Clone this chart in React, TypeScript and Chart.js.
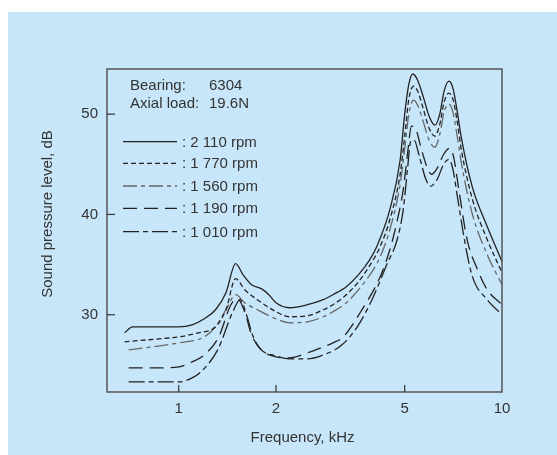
import { useEffect, useRef } from "react";
import { Chart, registerables } from "chart.js";

Chart.register(...registerables);

const FONT = '"Liberation Sans", Arial, Helvetica, sans-serif';
const TEXT = "#333";

// axis ticks
const xTickValues = [1, 2, 5, 10];
const yTickValues = [30, 40, 50];

// legend labels
const seriesLabels = [": 2 110 rpm", ": 1 770 rpm", ": 1 560 rpm", ": 1 190 rpm", ": 1 010 rpm"];

// 2 110 rpm
const freq2110 = [0.68, 0.72, 0.85, 1.0, 1.1, 1.2, 1.3, 1.4, 1.5, 1.58, 1.68, 1.8, 1.9, 2.0, 2.2, 2.5, 2.8, 3.0, 3.3, 3.6, 3.9, 4.1, 4.5, 4.84, 5.0, 5.15, 5.3, 5.48, 5.7, 5.95, 6.2, 6.42, 6.62, 6.85, 7.05, 7.25, 7.5, 8.1, 9.0, 10];
const spl2110 = [28.2, 28.8, 28.8, 28.8, 29.0, 29.6, 30.5, 32.2, 35.1, 34.0, 33.0, 32.6, 32.0, 31.2, 30.7, 31.0, 31.5, 32.0, 32.8, 34.0, 35.5, 36.8, 40.5, 45.4, 50.0, 53.0, 54.0, 53.4, 51.8, 49.8, 48.9, 50.0, 52.3, 53.3, 52.6, 50.5, 47.5, 42.7, 38.8, 35.3];

// 1 770 rpm
const freq1770 = [0.68, 0.8, 1.0, 1.15, 1.3, 1.4, 1.5, 1.6, 1.75, 2.0, 2.2, 2.5, 2.8, 3.0, 3.3, 3.6, 4.0, 4.2, 4.5, 4.84, 5.0, 5.15, 5.33, 5.5, 5.7, 5.95, 6.2, 6.42, 6.62, 6.85, 7.05, 7.25, 7.5, 8.1, 9.0, 10];
const spl1770 = [27.3, 27.5, 27.8, 28.2, 28.8, 30.5, 33.6, 32.5, 31.5, 30.3, 29.8, 29.9, 30.5, 31.0, 32.0, 33.3, 35.5, 36.8, 39.5, 44.0, 47.8, 51.5, 52.8, 52.2, 50.6, 48.6, 47.8, 49.0, 51.2, 52.1, 51.5, 49.5, 46.3, 41.5, 37.5, 34.2];

// 1 560 rpm
const freq1560 = [0.7, 1.0, 1.2, 1.3, 1.4, 1.5, 1.6, 1.75, 2.0, 2.2, 2.5, 2.8, 3.0, 3.3, 3.6, 4.0, 4.2, 4.5, 4.84, 5.0, 5.15, 5.33, 5.5, 5.7, 5.95, 6.2, 6.42, 6.62, 6.85, 7.05, 7.25, 7.5, 8.1, 9.0, 10];
const spl1560 = [26.5, 27.2, 27.8, 28.8, 30.5, 32.0, 31.2, 30.5, 29.6, 29.2, 29.3, 29.8, 30.3, 31.2, 32.5, 34.5, 35.8, 38.5, 43.0, 46.5, 50.0, 51.4, 50.8, 49.3, 47.4, 46.7, 48.0, 50.2, 51.0, 50.2, 48.0, 45.0, 40.0, 36.0, 33.0];

// 1 190 rpm
const freq1190 = [0.7, 0.85, 1.0, 1.1, 1.2, 1.33, 1.45, 1.52, 1.6, 1.68, 1.8, 2.0, 2.2, 2.5, 2.8, 3.0, 3.23, 3.64, 4.2, 4.5, 4.75, 4.95, 5.1, 5.25, 5.4, 5.6, 5.85, 6.05, 6.3, 6.6, 6.9, 7.1, 7.35, 7.8, 8.4, 9.0, 10];
const spl1190 = [24.7, 24.7, 24.8, 25.3, 26.0, 27.8, 31.0, 31.6, 30.3, 28.0, 26.5, 25.8, 25.7, 26.2, 26.8, 27.2, 27.8, 30.2, 33.8, 36.5, 39.5, 42.5, 46.0, 48.8, 48.6, 46.8, 44.8, 44.0, 44.6, 46.0, 46.6, 45.6, 42.5, 37.5, 34.5, 32.5, 31.0];

// 1 010 rpm
const freq1010 = [0.7, 1.0, 1.1, 1.17, 1.32, 1.47, 1.55, 1.62, 1.7, 1.8, 2.0, 2.2, 2.5, 2.8, 3.2, 3.6, 4.0, 4.4, 4.74, 4.95, 5.1, 5.22, 5.35, 5.55, 5.8, 6.0, 6.3, 6.6, 6.85, 7.05, 7.3, 7.7, 8.1, 9.0, 10];
const spl1010 = [23.3, 23.3, 23.7, 24.3, 26.5, 30.3, 31.5, 30.0, 27.8, 26.5, 25.9, 25.6, 25.6, 26.0, 27.0, 29.0, 31.8, 35.0, 37.5, 40.5, 44.5, 47.3, 47.4, 45.8, 43.6, 42.8, 43.5, 45.0, 45.5, 44.5, 41.5, 37.0, 33.8, 31.5, 30.0];

const toPoints = (xs: number[], ys: number[]) => xs.map((x, i) => ({ x, y: ys[i] }));

const overlayPlugin = {
  id: "overlay",
  afterDraw(chart: any) {
    const { ctx, chartArea: a, scales } = chart;
    ctx.save();
    // frame
    ctx.strokeStyle = "#555";
    ctx.lineWidth = 1.5;
    ctx.setLineDash([]);
    ctx.strokeRect(a.left, a.top, a.right - a.left, a.bottom - a.top);
    // inward ticks
    ctx.lineWidth = 1.2;
    ctx.strokeStyle = "#333";
    xTickValues.forEach((t) => {
      const px = scales.x.getPixelForValue(t);
      if (px < a.right - 2) {
        ctx.beginPath();
        ctx.moveTo(px, a.bottom);
        ctx.lineTo(px, a.bottom - 7);
        ctx.stroke();
      }
    });
    yTickValues.forEach((t) => {
      const py = scales.y.getPixelForValue(t);
      ctx.beginPath();
      ctx.moveTo(a.left, py);
      ctx.lineTo(a.left + 8, py);
      ctx.stroke();
    });
    // axis titles
    ctx.fillStyle = TEXT;
    ctx.font = `15px ${FONT}`;
    ctx.textAlign = "center";
    ctx.textBaseline = "middle";
    ctx.fillText("Frequency, kHz", (a.left + a.right) / 2 - 2, a.bottom + 46);
    ctx.save();
    ctx.translate(40, 202);
    ctx.rotate(-Math.PI / 2);
    ctx.fillText("Sound pressure level, dB", 0, 0);
    ctx.restore();
    // header text
    ctx.textAlign = "left";
    ctx.textBaseline = "alphabetic";
    ctx.fillText("Bearing:", a.left + 23, a.top + 21);
    ctx.fillText("6304", a.left + 102, a.top + 21);
    ctx.fillText("Axial load:", a.left + 23, a.top + 39);
    ctx.fillText("19.6N", a.left + 102, a.top + 39);
    // legend
    const rows = [72.7, 94.3, 117, 139.3, 162.7];
    ctx.textBaseline = "middle";
    chart.data.datasets.forEach((ds: any, i: number) => {
      const y = a.top + rows[i];
      ctx.strokeStyle = ds.borderColor;
      ctx.lineWidth = 1.3;
      ctx.setLineDash(ds.borderDash || []);
      ctx.beginPath();
      ctx.moveTo(a.left + 16, y);
      ctx.lineTo(a.left + 70, y);
      ctx.stroke();
      ctx.setLineDash([]);
      ctx.fillStyle = TEXT;
      ctx.fillText(seriesLabels[i], a.left + 75, y + 1);
    });
    ctx.restore();
  },
};

export default function App() {
  const ref = useRef<HTMLCanvasElement | null>(null);

  useEffect(() => {
    if (!ref.current) return;
    const common = {
      fill: false,
      pointRadius: 0,
      borderWidth: 1.3,
      cubicInterpolationMode: "monotone" as const,
    };
    const chart = new Chart(ref.current, {
      type: "line",
      data: {
        datasets: [
          { ...common, label: seriesLabels[0], data: toPoints(freq2110, spl2110), borderColor: "#222", borderDash: [] },
          { ...common, label: seriesLabels[1], data: toPoints(freq1770, spl1770), borderColor: "#222", borderDash: [5, 3] },
          { ...common, label: seriesLabels[2], data: toPoints(freq1560, spl1560), borderColor: "#666", borderDash: [14, 4, 4, 4] },
          { ...common, label: seriesLabels[3], data: toPoints(freq1190, spl1190), borderColor: "#222", borderDash: [14, 7] },
          { ...common, label: seriesLabels[4], data: toPoints(freq1010, spl1010), borderColor: "#222", borderDash: [16, 4, 5, 4] },
        ],
      },
      options: {
        responsive: false,
        animation: false,
        layout: { padding: { top: 57, right: 55, left: 0, bottom: 0 } },
        plugins: { legend: { display: false }, tooltip: { enabled: false } },
        scales: {
          x: {
            type: "logarithmic",
            min: 0.604,
            max: 10,
            grid: { display: false, drawTicks: false },
            border: { display: false },
            afterBuildTicks: (s: any) => {
              s.ticks = xTickValues.map((v) => ({ value: v }));
            },
            afterFit: (s: any) => {
              s.height = 63;
            },
            ticks: {
              padding: 8,
              color: TEXT,
              font: { family: FONT, size: 15 },
              maxRotation: 0,
              autoSkip: false,
              callback: (v: any) => String(v),
            },
          },
          y: {
            type: "linear",
            min: 22.3,
            max: 54.5,
            grid: { display: false, drawTicks: false },
            border: { display: false },
            afterBuildTicks: (s: any) => {
              s.ticks = yTickValues.map((v) => ({ value: v }));
            },
            afterFit: (s: any) => {
              s.width = 99;
            },
            ticks: {
              padding: 9,
              color: TEXT,
              font: { family: FONT, size: 15 },
              callback: (v: any) => String(v),
            },
          },
        },
      },
      plugins: [overlayPlugin],
    });
    return () => chart.destroy();
  }, []);

  return (
    <div
      style={{
        position: "fixed",
        left: 8,
        top: 12,
        width: 549,
        height: 443,
        background: "#c8e6f9",
      }}
    >
      <canvas ref={ref} width={549} height={443} style={{ display: "block" }} />
    </div>
  );
}
